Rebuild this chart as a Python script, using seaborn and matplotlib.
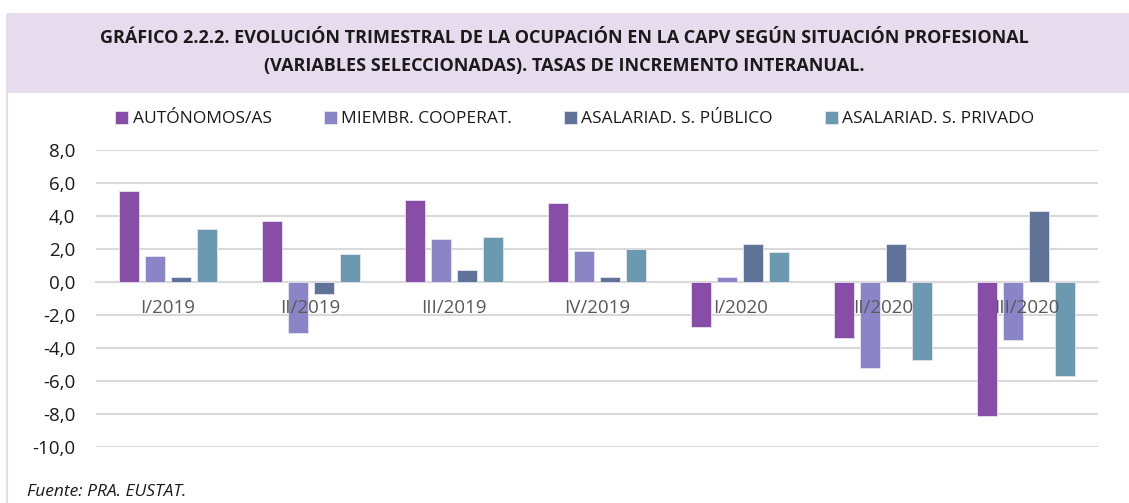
# Evolución trimestral de la ocupación en la CAPV según situación profesional
import seaborn as sns
import matplotlib.pyplot as plt
import pandas as pd
from matplotlib.patches import Rectangle
from matplotlib.lines import Line2D
from matplotlib.ticker import FuncFormatter

trimestres = ['I/2019', 'II/2019', 'III/2019', 'IV/2019', 'I/2020', 'II/2020', 'III/2020']
series = ['AUTÓNOMOS/AS', 'MIEMBR. COOPERAT.', 'ASALARIAD. S. PÚBLICO', 'ASALARIAD. S. PRIVADO']
autonomos = [5.5, 3.7, 5.0, 4.8, -2.7, -3.4, -8.1]
cooperat = [1.6, -3.1, 2.6, 1.9, 0.3, -5.2, -3.5]
publico = [0.3, -0.7, 0.7, 0.3, 2.3, 2.3, 4.3]
privado = [3.2, 1.7, 2.7, 2.0, 1.8, -4.7, -5.7]
colores = ['#884DA7', '#8985C7', '#5F7399', '#6A99B0']

# long format for seaborn
rows = []
for name, vals in zip(series, [autonomos, cooperat, publico, privado]):
    for t, v in zip(trimestres, vals):
        rows.append({'Trimestre': t, 'Serie': name, 'Tasa': v})
df = pd.DataFrame(rows)

sns.set_theme(style="white")
plt.rcParams['font.family'] = ['Open Sans', 'DejaVu Sans']

fig = plt.figure(figsize=(11.29, 5.03), dpi=100)
W, H = 1129, 503

# title band
fig.patches.append(Rectangle((6 / W, 1 - 93 / H), 1 - 6 / W, 80 / H,
                             transform=fig.transFigure, facecolor='#E7DCEE',
                             edgecolor='none', zorder=0))
fig.lines.append(Line2D([7 / W, 7 / W], [0, 1 - 93 / H], transform=fig.transFigure,
                        color='#E7DCEE', linewidth=1.5))
fig.text(0.5, 1 - 38 / H, 'GRÁFICO 2.2.2. EVOLUCIÓN TRIMESTRAL DE LA OCUPACIÓN EN LA CAPV SEGÚN SITUACIÓN PROFESIONAL',
         ha='center', va='center', fontsize=13, fontweight='bold', color='#1a1a1a')
fig.text(0.5, 1 - 66 / H, '(VARIABLES SELECCIONADAS). TASAS DE INCREMENTO INTERANUAL.',
         ha='center', va='center', fontsize=13, fontweight='bold', color='#1a1a1a')

ax = fig.add_axes([96 / W, 1 - 447 / H, (1098 - 96) / W, (447 - 150) / H])
sns.barplot(data=df, x='Trimestre', y='Tasa', hue='Serie', palette=colores, saturation=1,
            width=0.726, gap=0.23, edgecolor='#E8E4F0', linewidth=0.6, ax=ax)

ax.set_ylim(-10, 8)
ax.set_yticks(range(-10, 9, 2))
ax.yaxis.set_major_formatter(FuncFormatter(lambda v, p: f'{v:.1f}'.replace('.', ',')))
ax.grid(axis='y', color='#D9D9D9', linewidth=1.5)
ax.set_axisbelow(True)
ax.xaxis.set_zorder(5)  # category labels over the bars, like the original
for s in ['top', 'right', 'left']:
    ax.spines[s].set_visible(False)
ax.spines['bottom'].set_position(('data', 0))
ax.spines['bottom'].set_color('#D9D9D9')
ax.spines['bottom'].set_linewidth(1.5)
ax.spines['bottom'].set_zorder(0.6)
ax.tick_params(axis='y', length=0, pad=15, labelsize=13.5, labelcolor='#1a1a1a')
ax.tick_params(axis='x', length=0, pad=12, labelsize=13.5, labelcolor='#595959')
ax.set_xlabel('')
ax.set_ylabel('')

ax.legend(loc='center', bbox_to_anchor=(0.478, (447 - 119) / (447 - 150)), ncol=4,
          frameon=False, fontsize=12.5, handlelength=0.75, handleheight=0.75,
          handletextpad=0.25, columnspacing=3.0, labelcolor='#1a1a1a')

fig.text(27 / W, 1 - 492 / H, 'Fuente: PRA. EUSTAT.', ha='left', va='center',
         fontsize=12.5, style='italic', color='#1a1a1a')

plt.savefig('out.png', dpi=100)
